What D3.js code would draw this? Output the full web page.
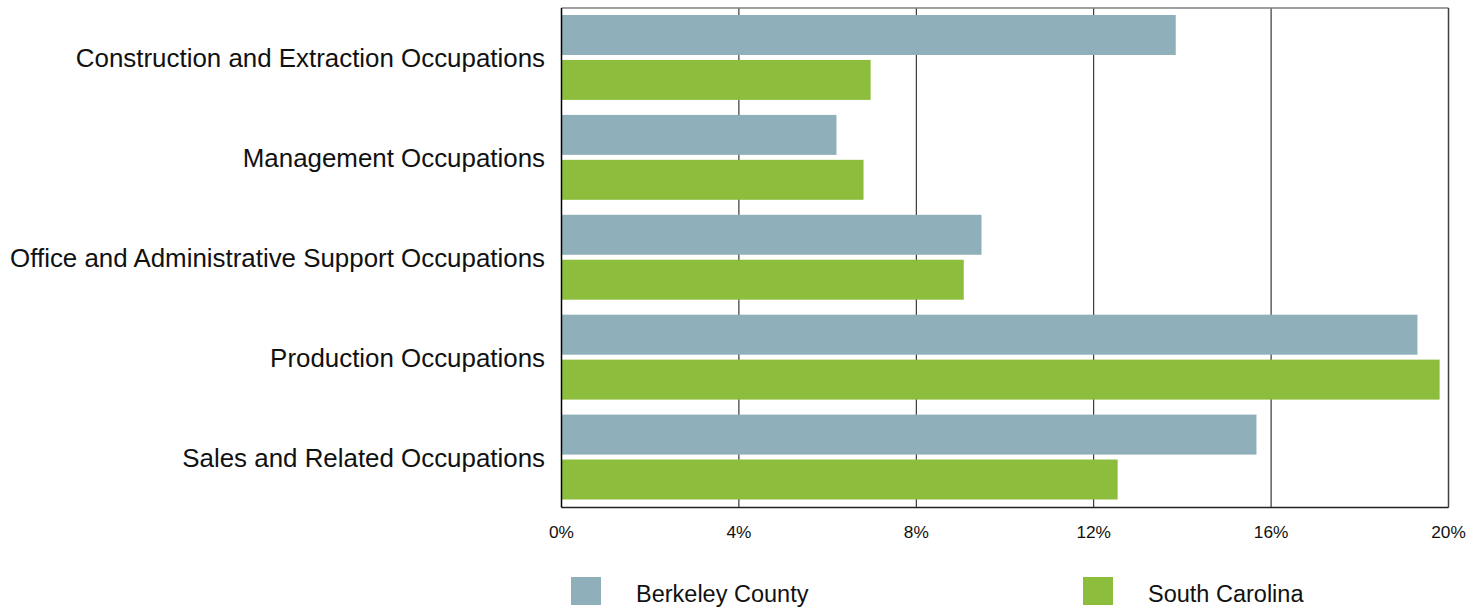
<!DOCTYPE html>
<html>
<head>
<meta charset="utf-8">
<script src="https://cdn.jsdelivr.net/npm/d3@7"></script>
<style>
  body { margin: 0; background: #fff; }
  text { font-family: "Liberation Sans", Arial, sans-serif; fill: #111; }
</style>
</head>
<body>
<svg id="chart" width="1483" height="608"></svg>
<script>
// data (percent of employment)
const categories = [
  'Construction and Extraction Occupations',
  'Management Occupations',
  'Office and Administrative Support Occupations',
  'Production Occupations',
  'Sales and Related Occupations'
];
const seriesNames = ['Berkeley County', 'South Carolina'];
const berkeley = [13.85, 6.2, 9.47, 19.3, 15.67];
const southCarolina = [6.97, 6.81, 9.07, 19.8, 12.54];
const xTicks = [0, 4, 8, 12, 16, 20];
const colors = ['#8fafba', '#8dbd3c'];

const svg = d3.select('#chart');
const plotLeft = 561.5, plotRight = 1448.5, plotTop = 8, plotBottom = 507.5;

const x = d3.scaleLinear().domain([0, 20]).range([plotLeft, plotRight]);
const y = d3.scaleBand().domain(categories).range([plotTop, plotBottom]);
const inner = d3.scaleBand().domain(seriesNames).range([7, y.bandwidth() - 8]).paddingInner(0.11);

// gridlines
svg.append('g')
  .selectAll('line')
  .data(xTicks.slice(1, -1))
  .join('line')
  .attr('x1', d => x(d)).attr('x2', d => x(d))
  .attr('y1', plotTop).attr('y2', plotBottom)
  .attr('stroke', '#111').attr('stroke-width', 1);

// bars
const rows = categories.map((c, i) => ({ cat: c, vals: [berkeley[i], southCarolina[i]] }));
const groups = svg.append('g')
  .selectAll('g')
  .data(rows)
  .join('g')
  .attr('transform', d => `translate(0, ${y(d.cat)})`);

groups.selectAll('rect')
  .data(d => d.vals.map((v, j) => ({ v, s: seriesNames[j], j })))
  .join('rect')
  .attr('x', x(0) + 0.5)
  .attr('y', d => inner(d.s))
  .attr('width', d => x(d.v) - x(0) - 0.5)
  .attr('height', inner.bandwidth())
  .attr('fill', d => colors[d.j]);

// frame
svg.append('line').attr('x1', plotLeft).attr('x2', plotRight).attr('y1', plotTop).attr('y2', plotTop)
  .attr('stroke', '#808080').attr('stroke-width', 1.5);
svg.append('line').attr('x1', plotRight).attr('x2', plotRight).attr('y1', plotTop).attr('y2', plotBottom)
  .attr('stroke', '#404040').attr('stroke-width', 1.5);
svg.append('line').attr('x1', plotLeft).attr('x2', plotRight).attr('y1', plotBottom).attr('y2', plotBottom)
  .attr('stroke', '#222').attr('stroke-width', 1.5);
svg.append('line').attr('x1', plotLeft).attr('x2', plotLeft).attr('y1', plotTop).attr('y2', plotBottom)
  .attr('stroke', '#000').attr('stroke-width', 1.5);

// category labels
svg.append('g')
  .selectAll('text')
  .data(categories)
  .join('text')
  .attr('x', 545)
  .attr('y', d => y(d) + y.bandwidth() / 2)
  .attr('dy', '0.35em')
  .attr('text-anchor', 'end')
  .attr('font-size', 25.9)
  .text(d => d);

// x tick labels
svg.append('g')
  .selectAll('text')
  .data(xTicks)
  .join('text')
  .attr('x', d => x(d))
  .attr('y', 538)
  .attr('text-anchor', 'middle')
  .attr('font-size', 17.3)
  .text(d => d + '%');

// legend
const legendX = [571, 1083];
const legend = svg.append('g')
  .selectAll('g')
  .data(seriesNames)
  .join('g')
  .attr('transform', (d, i) => `translate(${legendX[i]}, 577)`);
legend.append('rect').attr('width', 30).attr('height', 28).attr('fill', (d, i) => colors[i]);
legend.append('text').attr('x', 65).attr('y', 24.7).attr('font-size', 23.5).text(d => d);
</script>
</body>
</html>
